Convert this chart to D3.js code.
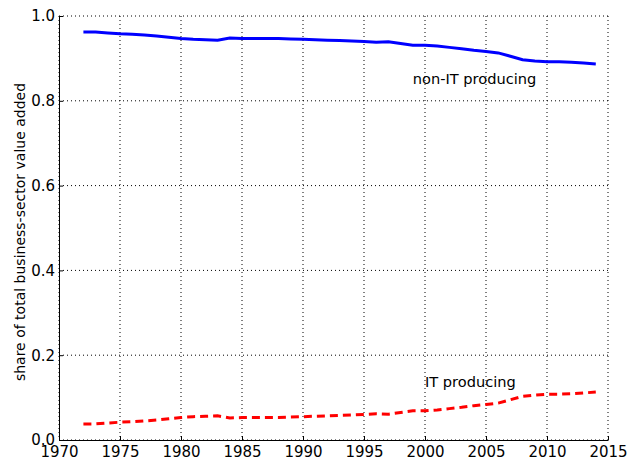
<!DOCTYPE html>
<html>
<head>
<meta charset="utf-8">
<script src="https://cdn.jsdelivr.net/npm/d3@7"></script>
<style>
body { margin: 0; background: #fff; }
text { font-family: "DejaVu Sans", sans-serif; }
.grid line { stroke: #000; stroke-dasharray: 1,3; stroke-width: 1; }
</style>
</head>
<body>
<div id="chart"></div>
<script>
// years 1972-2014
var years = d3.range(1972, 2015);

var nonIT = [0.962, 0.962, 0.960, 0.958, 0.957, 0.955, 0.953, 0.950, 0.947, 0.945,
             0.944, 0.943, 0.948, 0.947, 0.947, 0.947, 0.947, 0.946, 0.945, 0.944,
             0.943, 0.942, 0.941, 0.940, 0.938, 0.939, 0.935, 0.931, 0.931, 0.929,
             0.926, 0.923, 0.919, 0.916, 0.913, 0.905, 0.897, 0.894, 0.892, 0.892,
             0.891, 0.889, 0.887];

var itProd = [0.038, 0.038, 0.040, 0.042, 0.043, 0.045, 0.047, 0.050, 0.053, 0.055,
              0.056, 0.057, 0.052, 0.053, 0.053, 0.053, 0.053, 0.054, 0.055, 0.056,
              0.057, 0.058, 0.059, 0.060, 0.062, 0.061, 0.065, 0.069, 0.069, 0.071,
              0.074, 0.077, 0.081, 0.084, 0.087, 0.095, 0.103, 0.106, 0.108, 0.108,
              0.109, 0.111, 0.113];

var xTicks = [1970, 1975, 1980, 1985, 1990, 1995, 2000, 2005, 2010, 2015];
var yTicks = [0.0, 0.2, 0.4, 0.6, 0.8, 1.0];

var width = 629, height = 463;
var margin = {top: 16, right: 21, bottom: 23, left: 59};
var w = width - margin.left - margin.right;
var h = height - margin.top - margin.bottom;

var svg = d3.select("#chart").append("svg")
    .attr("width", width)
    .attr("height", height)
    .append("g")
    .attr("transform", "translate(" + margin.left + "," + margin.top + ")");

var x = d3.scaleLinear().domain([1970, 2015]).range([0, w]);
var y = d3.scaleLinear().domain([0, 1]).range([h, 0]);

// dotted grid
svg.append("g").attr("class", "grid")
    .selectAll("line").data(xTicks).enter().append("line")
    .attr("x1", function(d) { return x(d); })
    .attr("x2", function(d) { return x(d); })
    .attr("y1", 0).attr("y2", h);

svg.append("g").attr("class", "grid")
    .selectAll("line").data(yTicks).enter().append("line")
    .attr("x1", 0).attr("x2", w)
    .attr("y1", function(d) { return y(d); })
    .attr("y2", function(d) { return y(d); });

// axes, ticks pointing inward
var xAxis = svg.append("g")
    .attr("transform", "translate(0," + h + ")")
    .call(d3.axisBottom(x).tickValues(xTicks).tickFormat(d3.format("d"))
        .tickSizeInner(-4).tickSizeOuter(0).tickPadding(6));

var yAxis = svg.append("g")
    .call(d3.axisLeft(y).tickValues(yTicks).tickFormat(d3.format(".1f"))
        .tickSizeInner(-4).tickSizeOuter(0).tickPadding(4));

[xAxis, yAxis].forEach(function(a) {
    a.selectAll("text").attr("font-size", 15).attr("fill", "#000")
        .style("font-family", "DejaVu Sans, sans-serif");
    a.selectAll("line").attr("stroke", "#000");
    a.select(".domain").attr("stroke", "#000").attr("stroke-width", 1);
});

var line = d3.line()
    .x(function(d, i) { return x(years[i]); })
    .y(function(d) { return y(d); });

svg.append("path")
    .datum(nonIT)
    .attr("fill", "none")
    .attr("stroke", "#0000ff")
    .attr("stroke-width", 3)
    .attr("d", line);

svg.append("path")
    .datum(itProd)
    .attr("fill", "none")
    .attr("stroke", "#ff0000")
    .attr("stroke-width", 3)
    .attr("stroke-dasharray", "8,5")
    .attr("d", line);

// inline labels
svg.append("text")
    .attr("x", x(1999)).attr("y", y(0.84))
    .attr("font-size", 14.6)
    .text("non-IT producing");

svg.append("text")
    .attr("x", x(2000)).attr("y", y(0.126))
    .attr("font-size", 14.6)
    .text("IT producing");

svg.append("text")
    .attr("transform", "translate(" + (-34) + "," + (h / 2 + 4) + ") rotate(-90)")
    .attr("text-anchor", "middle")
    .attr("font-size", 14)
    .text("share of total business-sector value added");
</script>
</body>
</html>
